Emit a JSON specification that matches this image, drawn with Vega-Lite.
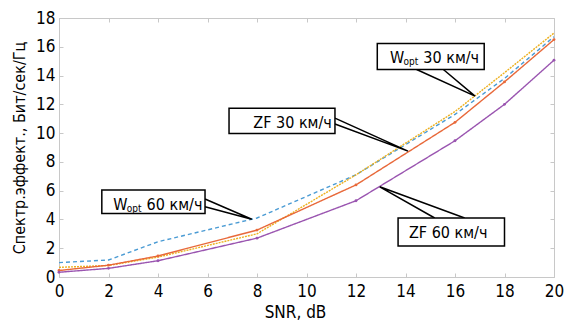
{
  "$schema": "https://vega.github.io/schema/vega-lite/v6.json",
  "width": 495,
  "height": 259,
  "autosize": {"type": "none"},
  "padding": {"left": 59, "top": 18, "right": 12, "bottom": 46},
  "background": "white",
  "config": {
    "font": "DejaVu Sans Condensed, Liberation Sans, sans-serif",
    "view": {"stroke": "#c8c8c8", "strokeWidth": 1},
    "axis": {
      "domainColor": "#c8c8c8",
      "tickColor": "#c8c8c8",
      "grid": false,
      "labelFont": "DejaVu Sans Condensed, Liberation Sans, sans-serif",
      "titleFont": "DejaVu Sans Condensed, Liberation Sans, sans-serif",
      "labelColor": "#000000",
      "titleColor": "#000000",
      "labelFontSize": 17,
      "titleFontSize": 16,
      "titleFontWeight": "normal"
    }
  },
  "datasets": {
    "series": [
      {"snr": 0, "v": 1.0, "s": "Wopt 60"},
      {"snr": 2, "v": 1.18, "s": "Wopt 60"},
      {"snr": 4, "v": 2.45, "s": "Wopt 60"},
      {"snr": 8, "v": 4.1, "s": "Wopt 60"},
      {"snr": 12, "v": 7.1, "s": "Wopt 60"},
      {"snr": 16, "v": 11.3, "s": "Wopt 60"},
      {"snr": 18, "v": 13.8, "s": "Wopt 60"},
      {"snr": 20, "v": 16.7, "s": "Wopt 60"},
      {"snr": 0, "v": 0.67, "s": "Wopt 30"},
      {"snr": 2, "v": 0.8, "s": "Wopt 30"},
      {"snr": 4, "v": 1.38, "s": "Wopt 30"},
      {"snr": 8, "v": 3.0, "s": "Wopt 30"},
      {"snr": 12, "v": 7.1, "s": "Wopt 30"},
      {"snr": 16, "v": 11.5, "s": "Wopt 30"},
      {"snr": 18, "v": 14.2, "s": "Wopt 30"},
      {"snr": 20, "v": 16.95, "s": "Wopt 30"},
      {"snr": 0, "v": 0.45, "s": "ZF 30"},
      {"snr": 2, "v": 0.82, "s": "ZF 30"},
      {"snr": 4, "v": 1.46, "s": "ZF 30"},
      {"snr": 8, "v": 3.26, "s": "ZF 30"},
      {"snr": 12, "v": 6.4, "s": "ZF 30"},
      {"snr": 16, "v": 10.75, "s": "ZF 30"},
      {"snr": 18, "v": 13.56, "s": "ZF 30"},
      {"snr": 20, "v": 16.5, "s": "ZF 30"},
      {"snr": 0, "v": 0.33, "s": "ZF 60"},
      {"snr": 2, "v": 0.6, "s": "ZF 60"},
      {"snr": 4, "v": 1.13, "s": "ZF 60"},
      {"snr": 8, "v": 2.7, "s": "ZF 60"},
      {"snr": 12, "v": 5.3, "s": "ZF 60"},
      {"snr": 16, "v": 9.47, "s": "ZF 60"},
      {"snr": 18, "v": 12.0, "s": "ZF 60"},
      {"snr": 20, "v": 15.07, "s": "ZF 60"}
    ],
    "boxes": [
      {"id": "a", "x1": 12.86, "x2": 17.18, "y1": 14.42, "y2": 16.23},
      {"id": "b", "x1": 6.87, "x2": 11.15, "y1": 9.98, "y2": 11.72},
      {"id": "c", "x1": 1.73, "x2": 5.9, "y1": 4.42, "y2": 6.04},
      {"id": "d", "x1": 13.7, "x2": 18.0, "y1": 2.15, "y2": 4.1}
    ],
    "callouts": [
      {"id": "a", "k": 1, "x": 14.45, "y": 14.42},
      {"id": "a", "k": 2, "x": 16.81, "y": 12.57},
      {"id": "a", "k": 3, "x": 15.53, "y": 14.42},
      {"id": "b", "k": 1, "x": 11.15, "y": 11.04},
      {"id": "b", "k": 2, "x": 14.1, "y": 8.75},
      {"id": "b", "k": 3, "x": 11.15, "y": 10.63},
      {"id": "c", "k": 1, "x": 5.9, "y": 5.42},
      {"id": "c", "k": 2, "x": 7.79, "y": 4.01},
      {"id": "c", "k": 3, "x": 5.9, "y": 4.88},
      {"id": "d", "k": 1, "x": 15.18, "y": 4.1},
      {"id": "d", "k": 2, "x": 12.96, "y": 6.27},
      {"id": "d", "k": 3, "x": 16.39, "y": 4.1}
    ],
    "texts": [
      {"t": "W", "x": 13.37, "y": 14.84},
      {"t": "30 км/ч", "x": 14.72, "y": 14.84},
      {"t": "ZF 30 км/ч", "x": 7.85, "y": 10.33},
      {"t": "W", "x": 2.19, "y": 4.65},
      {"t": "60 км/ч", "x": 3.54, "y": 4.65},
      {"t": "ZF 60 км/ч", "x": 14.14, "y": 2.69}
    ],
    "subs": [
      {"t": "opt", "x": 13.92, "y": 14.74},
      {"t": "opt", "x": 2.74, "y": 4.55}
    ]
  },
  "layer": [
    {
      "data": {"name": "series"},
      "mark": {"type": "line", "strokeWidth": 1.4},
      "encoding": {
        "x": {
          "field": "snr", "type": "quantitative",
          "scale": {"domain": [0, 20], "nice": false, "zero": false},
          "axis": {"title": "SNR, dB", "values": [0,2,4,6,8,10,12,14,16,18,20], "tickSize": -4, "labelPadding": 10, "titlePadding": 5, "titleX": 236, "titleFontSize": 17, "labelFlush": false}
        },
        "y": {
          "field": "v", "type": "quantitative",
          "scale": {"domain": [0, 18], "nice": false},
          "axis": {"title": "Спектр.эффект., Бит/сек/Гц", "values": [0,2,4,6,8,10,12,14,16,18], "tickSize": -4, "labelPadding": 8, "titlePadding": 8, "labelFlush": false}
        },
        "color": {
          "field": "s", "type": "nominal", "legend": null,
          "scale": {"domain": ["Wopt 60", "Wopt 30", "ZF 30", "ZF 60"], "range": ["#4A9BD4", "#EDB120", "#E8693A", "#9A55B0"]}
        },
        "strokeDash": {
          "field": "s", "type": "nominal", "legend": null,
          "scale": {"domain": ["Wopt 60", "Wopt 30", "ZF 30", "ZF 60"], "range": [[4, 3], [2, 1], [1, 0], [1, 0]]}
        }
      }
    },
    {
      "data": {"name": "series"},
      "transform": [{"filter": "datum.s === 'ZF 30' || datum.s === 'ZF 60'"}],
      "mark": {"type": "point", "filled": true, "size": 8, "opacity": 1},
      "encoding": {
        "x": {"field": "snr", "type": "quantitative", "axis": null},
        "y": {"field": "v", "type": "quantitative", "axis": null},
        "color": {"field": "s", "type": "nominal", "legend": null}
      }
    },
    {
      "data": {"name": "callouts"},
      "mark": {"type": "line", "color": "#000000", "strokeWidth": 1.5},
      "encoding": {
        "x": {"field": "x", "type": "quantitative", "axis": null},
        "y": {"field": "y", "type": "quantitative", "axis": null},
        "detail": {"field": "id"},
        "order": {"field": "k"}
      }
    },
    {
      "data": {"name": "boxes"},
      "mark": {"type": "rect", "fill": "white", "stroke": "#000000", "strokeWidth": 1.5},
      "encoding": {
        "x": {"field": "x1", "type": "quantitative", "axis": null},
        "x2": {"field": "x2"},
        "y": {"field": "y1", "type": "quantitative", "axis": null},
        "y2": {"field": "y2"}
      }
    },
    {
      "data": {"name": "texts"},
      "mark": {"type": "text", "align": "left", "baseline": "alphabetic", "fontSize": 16, "color": "#000000"},
      "encoding": {
        "x": {"field": "x", "type": "quantitative", "axis": null},
        "y": {"field": "y", "type": "quantitative", "axis": null},
        "text": {"field": "t"}
      }
    },
    {
      "data": {"name": "subs"},
      "mark": {"type": "text", "align": "left", "baseline": "alphabetic", "fontSize": 10, "color": "#000000"},
      "encoding": {
        "x": {"field": "x", "type": "quantitative", "axis": null},
        "y": {"field": "y", "type": "quantitative", "axis": null},
        "text": {"field": "t"}
      }
    },
    {
      "data": {"name": "series"},
      "mark": {"type": "point", "opacity": 0},
      "encoding": {
        "x": {"field": "snr", "type": "quantitative", "axis": {"orient": "top", "labels": false, "title": null, "domain": false, "values": [0,2,4,6,8,10,12,14,16,18,20], "tickSize": -4}},
        "y": {"field": "v", "type": "quantitative", "axis": {"orient": "right", "labels": false, "title": null, "domain": false, "values": [0,2,4,6,8,10,12,14,16,18], "tickSize": -4}}
      }
    }
  ],
  "resolve": {"axis": {"x": "independent", "y": "independent"}}
}
